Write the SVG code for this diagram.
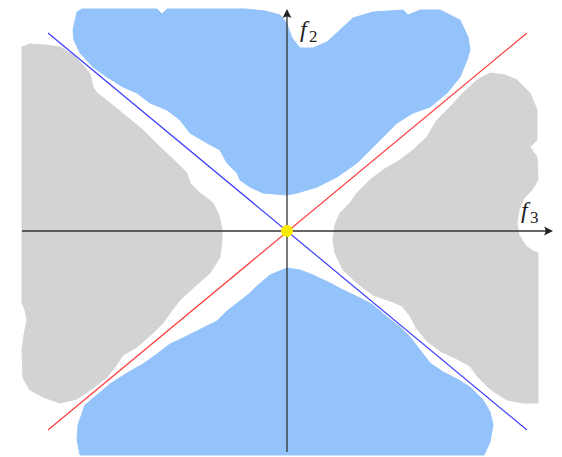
<svg xmlns="http://www.w3.org/2000/svg" width="562" height="457" viewBox="0 0 562 457">
<style>
.gray{fill:#d3d3d3;stroke:#d3d3d3;stroke-width:1;stroke-linejoin:round}
.blue{fill:#94c3fc;stroke:#94c3fc;stroke-width:1;stroke-linejoin:round}
.axis{stroke:#333;stroke-width:1.3;fill:none}
.head{fill:#222}
.lbl{font-family:"Liberation Serif",serif;fill:#222}
</style>
<rect width="562" height="457" fill="#fff"/>
<g id="regions">
<path id="gray-left" class="gray" d="M22,47 L30,44 L45,45 L60,47 L73,55 L83,65 L90,74 L93,87 L97,93 L110,103 L127,117 L143,130 L160,147 L177,163 L187,173 L190,183 L200,193 L213,203 L219,215 L222,230 L222,240 L220,257 L210,273 L193,288 L180,300 L170,313 L163,323 L153,333 L137,347 L123,355 L115,367 L107,377 L93,388 L77,399 L60,403 L43,397 L30,390 L23,378 L22,350 L24,335 L27,320 L25,310 L22,303 Z"/>
<path id="gray-right" class="gray" d="M490,73 L505,75 L517,80 L530,93 L537,110 L537,140 L530,147 L537,157 L538,180 L532,190 L524,198 L519,210 L517,223 L519,235 L526,246 L533,251 L538,253 L538,403 L523,403 L507,400 L490,389 L477,376 L470,366 L457,359 L440,351 L427,341 L417,329 L410,316 L402,306 L393,302 L373,295 L357,283 L343,270 L335,253 L333,240 L335,225 L340,213 L350,203 L357,193 L370,180 L383,170 L400,160 L413,150 L427,137 L437,120 L450,107 L463,93 L477,80 Z"/>
<path id="blue-top" class="blue" d="M77,12 L82,9 L157,9 L162,14 L167,9 L245,9 L265,11 L280,15 L286,22 L292,38 L300,48 L313,48 L327,42 L340,30 L353,18 L373,12 L403,10 L408,15 L420,10 L440,10 L460,20 L468,37 L470,50 L467,60 L460,77 L447,93 L430,107 L413,113 L397,123 L383,137 L370,150 L357,163 L337,177 L317,187 L297,193 L287,195 L263,193 L250,187 L240,180 L237,173 L227,163 L220,150 L207,143 L190,133 L180,120 L167,110 L150,103 L137,93 L123,87 L107,77 L93,67 L80,53 L74,40 L73,30 Z"/>
<path id="blue-bottom" class="blue" d="M287,268 L300,270 L313,275 L330,283 L343,290 L360,298 L373,305 L387,317 L400,327 L410,337 L420,350 L430,363 L443,372 L457,379 L470,387 L483,400 L490,412 L493,425 L490,442 L484,455 L80,455 L77,440 L78,425 L85,405 L97,395 L110,384 L127,373 L143,364 L157,354 L170,344 L183,338 L197,331 L217,321 L227,311 L240,301 L250,293 L257,286 L270,275 Z"/>
</g>
<g id="connectors">
<line class="axis" x1="22" y1="231" x2="548" y2="231"/>
<path class="head" d="M553,231 L544,226.5 Q547,231 544,235.5 Z"/>
<line class="axis" x1="287" y1="452" x2="287" y2="15"/>
<path class="head" d="M287,9 L282.5,18 Q287,15 291.5,18 Z"/>
<line x1="48" y1="33" x2="527" y2="430" stroke="#3c3cff" stroke-width="1.2"/>
<line x1="48" y1="430" x2="527" y2="33" stroke="#ff3c3c" stroke-width="1.2"/>
</g>
<g id="origin"><circle cx="287" cy="231" r="6" fill="#ffeb00"/></g>
<g id="label-f2"><text class="lbl" x="300" y="37" font-size="24" font-style="italic">f<tspan x="309" y="42" font-style="normal" font-size="17">2</tspan></text></g>
<g id="label-f3"><text class="lbl" x="521" y="218" font-size="24" font-style="italic">f<tspan x="530" y="223" font-style="normal" font-size="17">3</tspan></text></g>
</svg>
